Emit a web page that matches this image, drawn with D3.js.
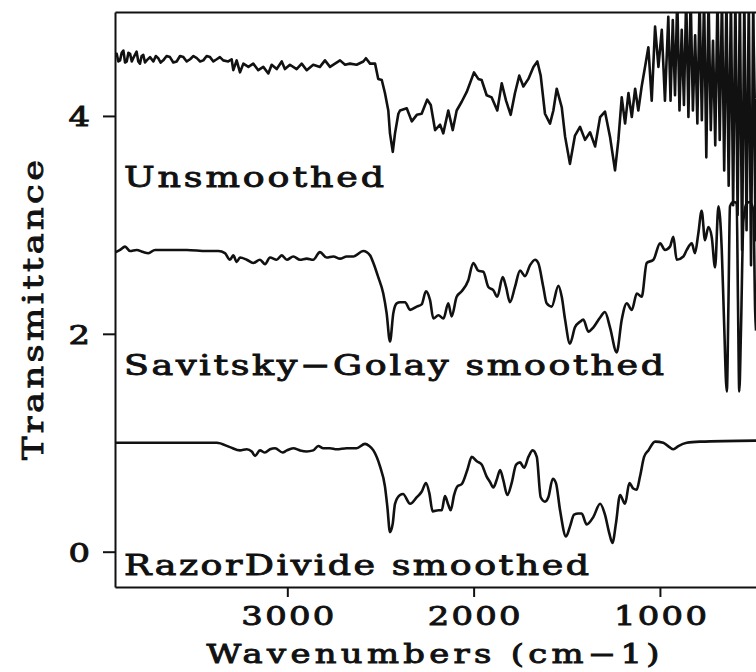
<!DOCTYPE html>
<html>
<head>
<meta charset="utf-8">
<script src="https://cdn.jsdelivr.net/npm/d3@7"></script>
<style>
    body { margin: 0; background: #fff; }
    svg { display: block; }
    .lbl { font-family: "DejaVu Serif", "Liberation Serif", serif; fill: #111; stroke: #111; stroke-width: 0.9px; }
</style>
</head>
<body>
<div id="chart-container"></div>
<script>
// wavenumber (cm-1), transmittance
const unsmoothed = [
    [3921,4.54],[3916,4.57],[3907,4.50],[3898,4.51],[3889,4.58],[3880,4.60],[3871,4.49],[3862,4.50],[3853,4.58],[3844,4.57],
    [3835,4.50],[3827,4.53],[3818,4.56],[3809,4.59],[3800,4.50],[3791,4.48],[3782,4.55],[3773,4.56],[3764,4.49],[3755,4.51],
    [3737,4.54],[3719,4.50],[3706,4.55],[3693,4.53],[3680,4.49],[3666,4.51],[3648,4.55],[3630,4.54],[3612,4.49],[3594,4.50],
    [3576,4.55],[3558,4.54],[3540,4.50],[3522,4.52],[3504,4.55],[3486,4.53],[3468,4.50],[3451,4.51],[3433,4.55],[3415,4.54],
    [3397,4.50],[3379,4.52],[3362,4.54],[3344,4.51],[3317,4.50],[3299,4.52],[3290,4.42],[3272,4.51],[3254,4.40],[3236,4.48],
    [3209,4.45],[3183,4.48],[3156,4.42],[3129,4.45],[3102,4.39],[3084,4.47],[3057,4.43],[3030,4.50],[3013,4.43],[2986,4.47],
    [2950,4.43],[2923,4.48],[2896,4.42],[2861,4.47],[2825,4.45],[2798,4.51],[2771,4.45],[2744,4.48],[2717,4.51],[2690,4.47],
    [2664,4.48],[2628,4.47],[2592,4.50],[2578,4.53],[2556,4.48],[2529,4.48],[2512,4.34],[2493,4.33],[2476,4.21],[2458,4.05],
    [2449,3.84],[2434,3.67],[2422,3.84],[2404,4.02],[2395,4.05],[2359,4.07],[2332,3.95],[2305,4.01],[2279,4.02],[2249,4.15],
    [2230,4.10],[2207,3.87],[2180,3.92],[2163,3.84],[2136,4.05],[2112,3.87],[2091,4.05],[2064,4.13],[2037,4.22],[1998,4.40],
    [1975,4.34],[1957,4.33],[1930,4.19],[1903,4.17],[1873,4.05],[1849,4.30],[1826,4.14],[1801,4.01],[1778,4.21],[1755,4.37],
    [1733,4.27],[1706,4.34],[1679,4.45],[1658,4.50],[1640,4.37],[1617,4.02],[1590,3.93],[1572,4.05],[1554,4.25],[1527,4.08],
    [1509,3.81],[1483,3.56],[1456,3.82],[1429,3.90],[1402,3.78],[1375,3.85],[1348,3.72],[1321,3.99],[1295,4.04],[1268,3.81],
    [1241,3.50],[1223,3.78],[1205,4.17],[1187,3.93],[1169,4.21],[1151,3.99],[1133,4.25],[1116,4.05],[1098,4.27],[1080,4.45],
    [1062,4.63],[1044,4.14],[1026,4.82],[1008,4.45],[990,4.79],[973,4.14],[955,4.91],[943,4.14],[931,4.88],[919,4.19],
    [907,5.10],[895,4.05],[883,4.79],[871,4.10],[859,5.10],[847,3.99],[835,5.10],[823,4.05],[811,4.74],[799,3.93],
    [787,5.10],[775,3.96],[763,5.10],[751,3.62],[739,5.10],[727,3.87],[715,4.69],[703,3.73],[691,5.10],[679,3.78],
    [667,5.10],[655,3.50],[643,5.10],[631,3.36],[619,5.10],[607,3.18],[595,5.10],[583,3.09],[571,5.10],[559,2.77],
    [547,5.10],[535,2.95],[523,5.10],[511,2.63],[499,5.10],[487,2.86],[475,5.10]
];

const savitskyGolay = [
    [3921,2.75],[3898,2.77],[3871,2.80],[3844,2.76],[3809,2.77],[3773,2.75],[3746,2.74],[3710,2.77],[3647,2.77],[3540,2.77],
    [3433,2.76],[3370,2.76],[3335,2.74],[3308,2.68],[3290,2.72],[3272,2.66],[3254,2.70],[3218,2.68],[3183,2.65],[3147,2.68],
    [3120,2.64],[3093,2.70],[3057,2.68],[3030,2.72],[3003,2.68],[2968,2.71],[2932,2.68],[2896,2.69],[2861,2.68],[2825,2.75],
    [2789,2.70],[2753,2.71],[2717,2.69],[2681,2.71],[2646,2.71],[2592,2.76],[2556,2.72],[2538,2.65],[2512,2.52],[2485,2.37],
    [2467,2.19],[2449,1.93],[2431,2.19],[2413,2.28],[2395,2.29],[2368,2.29],[2341,2.22],[2305,2.25],[2279,2.27],[2256,2.39],
    [2234,2.31],[2216,2.14],[2189,2.17],[2162,2.14],[2136,2.28],[2118,2.16],[2091,2.34],[2064,2.39],[2029,2.49],[2002,2.65],
    [1975,2.58],[1948,2.57],[1921,2.43],[1894,2.40],[1873,2.34],[1844,2.52],[1826,2.43],[1805,2.29],[1778,2.43],[1751,2.58],
    [1724,2.53],[1697,2.63],[1670,2.68],[1653,2.65],[1626,2.43],[1608,2.28],[1581,2.25],[1545,2.44],[1527,2.34],[1509,2.13],
    [1483,1.91],[1456,2.06],[1429,2.11],[1411,2.13],[1384,2.02],[1357,2.06],[1321,2.15],[1295,2.20],[1268,2.06],[1232,1.83],
    [1205,2.13],[1178,2.28],[1151,2.22],[1124,2.37],[1098,2.34],[1071,2.65],[1035,2.68],[999,2.83],[973,2.77],[946,2.80],
    [928,2.89],[910,2.68],[874,2.71],[856,2.77],[829,2.83],[812,2.74],[794,2.92],[776,3.13],[758,2.86],[740,2.98],
    [722,2.89],[704,2.61],[686,3.17],[668,2.77],[656,2.13],[641,1.47],[632,2.30],[624,3.17],[606,3.21],[588,3.20],
    [581,2.30],[574,1.47],[565,2.03],[552,3.04],[534,3.20],[516,3.21],[498,3.13],[489,2.22],[484,2.03]
];

const razorDivide = [
    [3921,1.00],[3379,1.00],[3308,0.96],[3254,0.93],[3218,0.94],[3191,0.92],[3173,0.88],[3147,0.93],[3120,0.91],[3093,0.94],
    [3066,0.95],[3025,0.91],[3003,0.93],[2968,0.95],[2932,0.93],[2896,0.92],[2861,0.93],[2834,0.97],[2807,0.95],[2771,0.95],
    [2735,0.94],[2681,0.95],[2628,0.95],[2583,0.99],[2560,0.97],[2538,0.93],[2502,0.78],[2476,0.60],[2463,0.41],[2449,0.18],
    [2434,0.26],[2422,0.44],[2395,0.52],[2379,0.53],[2341,0.44],[2305,0.50],[2279,0.55],[2256,0.63],[2238,0.54],[2220,0.37],
    [2189,0.38],[2171,0.38],[2154,0.51],[2136,0.43],[2123,0.38],[2105,0.52],[2087,0.60],[2064,0.62],[2034,0.75],[2010,0.87],
    [1983,0.83],[1957,0.80],[1930,0.69],[1912,0.64],[1894,0.59],[1876,0.66],[1858,0.75],[1841,0.66],[1819,0.52],[1796,0.63],
    [1772,0.80],[1751,0.82],[1729,0.77],[1706,0.87],[1683,0.93],[1661,0.87],[1640,0.50],[1617,0.46],[1599,0.50],[1575,0.67],
    [1558,0.63],[1536,0.38],[1504,0.14],[1483,0.23],[1461,0.34],[1438,0.35],[1420,0.35],[1393,0.25],[1357,0.32],[1321,0.44],
    [1295,0.34],[1272,0.17],[1255,0.08],[1236,0.26],[1214,0.52],[1187,0.44],[1164,0.63],[1143,0.58],[1125,0.57],[1107,0.69],
    [1085,0.87],[1062,0.93],[1026,1.01],[982,1.00],[949,0.96],[928,0.94],[901,0.97],[856,1.00],[785,1.01],[484,1.02]
];

const xTicks = [3000, 2000, 1000];
const yTicks = [0, 2, 4];
const curveLabels = ["Unsmoothed", "Savitsky\u2212Golay smoothed", "RazorDivide smoothed"];
const xTitle = "Wavenumbers (cm\u22121)";
const yTitle = "Transmittance";

const width = 756;
const height = 672;
const plotLeft = 115, plotTop = 12, plotBottom = 587;
const stretch = 1.3; // the plotter lettering is wider than any installed serif

const svg = d3.select('#chart-container')
    .append('svg')
    .attr('width', width)
    .attr('height', height);

// x runs from high to low wavenumber, the right end is cut off by the page
const x = d3.scaleLinear().domain([3925, 400]).range([plotLeft, 771.7]);
const y = d3.scaleLinear().domain([-0.324, 4.954]).range([plotBottom, plotTop]);

svg.append('clipPath')
    .attr('id', 'plot-clip')
    .append('rect')
    .attr('x', plotLeft)
    .attr('y', plotTop)
    .attr('width', width - plotLeft)
    .attr('height', plotBottom - plotTop);

//Build the axes
const xAxis = svg.append('g')
    .attr('transform', 'translate(0,' + plotBottom + ')')
    .call(d3.axisBottom(x).tickValues(xTicks).tickFormat(d3.format('d')).tickSize(10).tickSizeOuter(0));

xAxis.selectAll('text')
    .attr('class', 'lbl')
    .attr('y', 0)
    .attr('dy', null)
    .attr('transform', 'translate(0,38) scale(' + stretch + ',1)')
    .attr('textLength', 93 / stretch)
    .style('font-size', '26px');

const yAxis = svg.append('g')
    .attr('transform', 'translate(' + plotLeft + ',0)')
    .call(d3.axisLeft(y).tickValues(yTicks).tickFormat(d3.format('d')).tickSize(12).tickSizeOuter(0));

yAxis.selectAll('text')
    .attr('class', 'lbl')
    .attr('x', 0)
    .attr('dy', '0.36em')
    .attr('transform', 'translate(-25,0) scale(' + stretch + ',1)')
    .style('font-size', '26px');

svg.append('g')
    .attr('transform', 'translate(0,' + plotTop + ')')
    .call(d3.axisTop(x).tickValues([]).tickSizeOuter(0));

svg.selectAll('.domain, .tick line')
    .attr('stroke', '#111')
    .attr('stroke-width', 2);

//Draw the three spectra
const line = d3.line()
    .x(d => x(d[0]))
    .y(d => y(d[1]));

const plot = svg.append('g').attr('clip-path', 'url(#plot-clip)');

plot.append('path')
    .datum(unsmoothed)
    .attr('d', line.curve(d3.curveLinear))
    .attr('fill', 'none')
    .attr('stroke', '#111')
    .attr('stroke-width', 2.6)
    .attr('stroke-linejoin', 'round');

[savitskyGolay, razorDivide].forEach(series => {
    plot.append('path')
        .datum(series)
        .attr('d', line.curve(d3.curveMonotoneX))
        .attr('fill', 'none')
        .attr('stroke', '#111')
        .attr('stroke-width', 2.6)
        .attr('stroke-linejoin', 'round');
});

//Curve labels
const labelPos = [
    { base: 187, len: 260 },
    { base: 375, len: 540 },
    { base: 575, len: 465 }
];

curveLabels.forEach((txt, i) => {
    svg.append('text')
        .attr('class', 'lbl')
        .attr('transform', 'translate(124,' + labelPos[i].base + ') scale(' + stretch + ',1)')
        .attr('textLength', labelPos[i].len / stretch)
        .style('font-size', '28px')
        .text(txt);
});

//Axis titles
svg.append('text')
    .attr('class', 'lbl')
    .attr('transform', 'translate(433,663) scale(' + stretch + ',1)')
    .attr('text-anchor', 'middle')
    .attr('textLength', 453 / stretch)
    .style('font-size', '26px')
    .text(xTitle);

svg.append('text')
    .attr('class', 'lbl')
    .attr('transform', 'translate(43,310) rotate(-90) scale(' + stretch + ',1)')
    .attr('text-anchor', 'middle')
    .attr('textLength', 300 / stretch)
    .style('font-size', '27px')
    .text(yTitle);
</script>
</body>
</html>
